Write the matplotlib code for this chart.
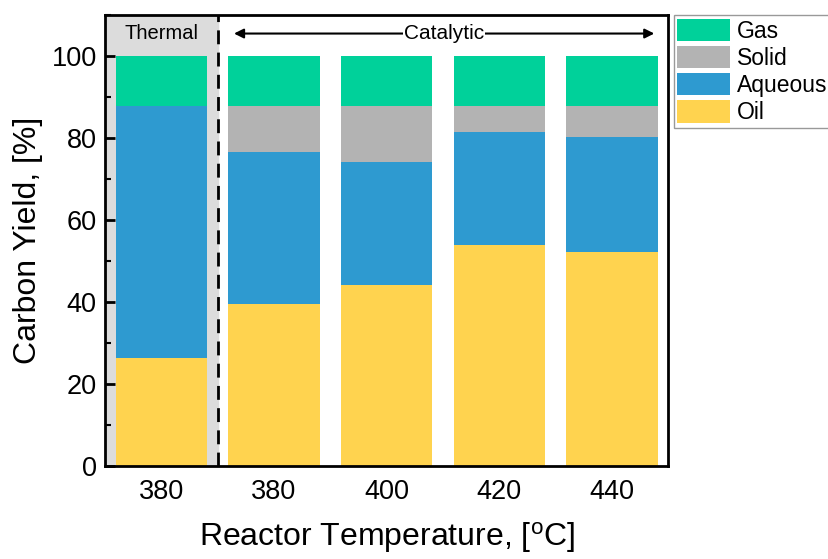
import numpy as np
import matplotlib
matplotlib.use('Agg')
import matplotlib.pyplot as plt
from matplotlib.ticker import MultipleLocator

plt.rcParams['font.family'] = ['Liberation Sans', 'DejaVu Sans']
plt.rcParams['mathtext.fontset'] = 'custom'
plt.rcParams['mathtext.rm'] = 'Liberation Sans'

labels = ['380', '380', '400', '420', '440']
oil = [26.3, 39.5, 44.1, 53.9, 52.3]
aqueous = [61.5, 37.0, 30.1, 27.5, 28.0]
solid = [0.0, 11.3, 13.6, 6.4, 7.5]
gas = [12.2, 12.2, 12.2, 12.2, 12.2]

colors = {'Gas': '#00d19a', 'Solid': '#b3b3b3', 'Aqueous': '#2e9ad0', 'Oil': '#ffd34f'}

fig = plt.figure(figsize=(8.29, 5.59), dpi=100)
ax = fig.add_axes([0.1267, 0.1664, 0.6795, 0.8066])

x = np.arange(len(labels))
ax.axvspan(-0.5, 0.5, color='#dcdcdc', zorder=0)
ax.axvline(0.5, color='black', linestyle=(0, (5, 3)), linewidth=2, zorder=3)

w = 0.81
b1 = ax.bar(x, oil, w, color=colors['Oil'], label='Oil', zorder=2)
bottom = np.array(oil)
b2 = ax.bar(x, aqueous, w, bottom=bottom, color=colors['Aqueous'], label='Aqueous', zorder=2)
bottom = bottom + np.array(aqueous)
b3 = ax.bar(x, solid, w, bottom=bottom, color=colors['Solid'], label='Solid', zorder=2)
bottom = bottom + np.array(solid)
b4 = ax.bar(x, gas, w, bottom=bottom, color=colors['Gas'], label='Gas', zorder=2)

ax.set_xlim(-0.5, 4.5)
ax.set_ylim(0, 110)
ax.set_xticks(x)
ax.set_xticklabels(labels)
ax.set_yticks([0, 20, 40, 60, 80, 100])
ax.yaxis.set_minor_locator(MultipleLocator(10))
ax.tick_params(axis='y', which='major', direction='in', length=7, width=2, labelsize=19.5, pad=6)
ax.tick_params(axis='y', which='minor', direction='in', length=4, width=1.5)
ax.tick_params(axis='x', length=0, labelsize=19.5, pad=9.5)
for s in ax.spines.values():
    s.set_linewidth(2)

ax.set_ylabel('Carbon Yield, [%]', fontsize=23)
ax.yaxis.label.set_verticalalignment('center')
ax.yaxis.set_label_coords(-0.137, 0.5)
ax.set_xlabel(r'Reactor Temperature, [$\mathregular{^o}$C]', fontsize=23)
ax.xaxis.label.set_verticalalignment('baseline')
ax.xaxis.set_label_coords(0.5, -0.178)

ax.text(0, 105.5, 'Thermal', ha='center', va='center', fontsize=14.5, zorder=4)
ax.annotate('', xy=(0.62, 105.5), xytext=(4.4, 105.5),
            arrowprops=dict(arrowstyle='<|-|>', color='black', lw=1.5, mutation_scale=14), zorder=4)
ax.text(2.51, 105.5, 'Catalytic', ha='center', va='center', fontsize=15, zorder=5,
        bbox=dict(facecolor='white', edgecolor='none', pad=0.5))

leg = ax.legend(handles=[b4, b3, b2, b1], loc='upper left', bbox_to_anchor=(1.01, 1.0),
                borderaxespad=0, fontsize=16.5, handlelength=2.3, handleheight=1.13,
                labelspacing=0.14, handletextpad=0.29, borderpad=0.15, fancybox=False,
                edgecolor='#999999', framealpha=1)
leg.get_frame().set_linewidth(1)

fig.savefig('out.png', dpi=100)
